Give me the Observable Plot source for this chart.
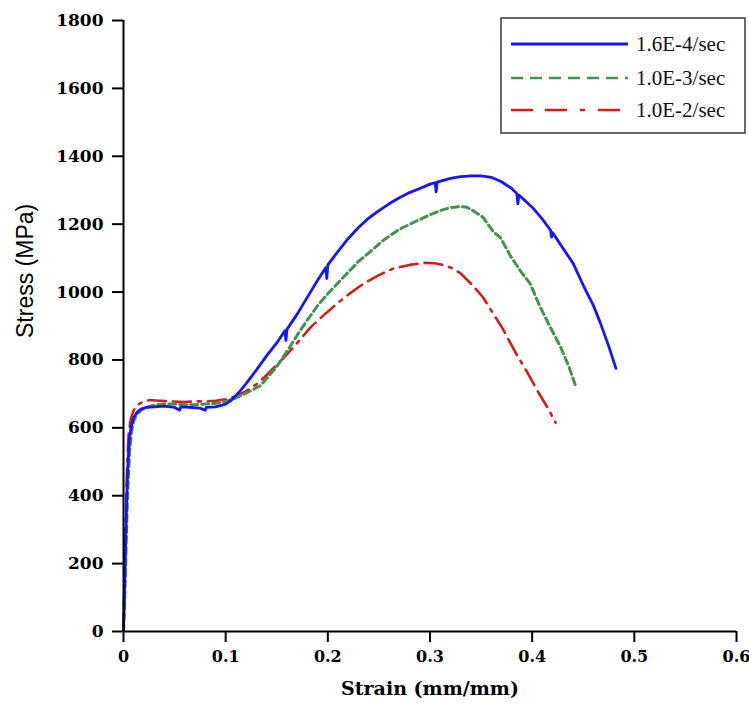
<!DOCTYPE html>
<html>
<head>
<meta charset="utf-8">
<script src="https://cdn.jsdelivr.net/npm/d3@7"></script>
<script src="https://cdn.jsdelivr.net/npm/@observablehq/plot@0.6"></script>
<style>
  html, body { margin: 0; padding: 0; background: white; }
  #wrap { position: relative; width: 749px; height: 711px; }
  #legend { position: absolute; left: 0; top: 0; }
</style>
</head>
<body>
<div id="wrap"></div>
<script>
const xTicks = [0, 0.1, 0.2, 0.3, 0.4, 0.5, 0.6];
const yTicks = [0, 200, 400, 600, 800, 1000, 1200, 1400, 1600, 1800];
const seriesNames = ["1.6E-4/sec", "1.0E-3/sec", "1.0E-2/sec"];
const seriesColors = ["#1414ff", "#43924f", "#d41c1c"];

// strain (mm/mm), stress (MPa)
const rate16e4 = [
  [0,0],[0.001,120],[0.002,250],[0.003,380],[0.004,470],[0.005,530],[0.006,575],[0.008,610],
  [0.010,630],[0.013,645],[0.017,655],[0.022,660],[0.030,662],[0.040,664],[0.050,660],
  [0.055,652],[0.056,662],[0.065,660],[0.075,658],[0.080,652],[0.081,660],[0.090,662],
  [0.100,670],[0.105,680],[0.110,695],[0.115,712],[0.120,730],[0.125,750],[0.130,770],
  [0.140,812],[0.150,850],[0.158,886],[0.159,858],[0.160,890],[0.170,935],[0.180,985],
  [0.190,1035],[0.198,1072],[0.199,1040],[0.200,1080],[0.210,1120],[0.220,1158],[0.230,1190],
  [0.240,1218],[0.250,1240],[0.260,1260],[0.270,1278],[0.280,1293],[0.290,1305],[0.300,1318],
  [0.305,1322],[0.306,1295],[0.307,1324],[0.320,1335],[0.330,1340],[0.340,1342],[0.350,1342],
  [0.360,1338],[0.370,1325],[0.380,1305],[0.385,1290],[0.386,1260],[0.387,1286],[0.390,1278],
  [0.400,1250],[0.410,1215],[0.418,1182],[0.419,1162],[0.420,1175],[0.430,1130],[0.440,1085],
  [0.450,1020],[0.460,960],[0.467,907],[0.475,840],[0.482,775]
];
const rate10e3 = [
  [0,0],[0.001,80],[0.002,180],[0.003,300],[0.004,400],[0.005,470],[0.006,530],[0.008,590],
  [0.010,620],[0.013,640],[0.017,652],[0.022,660],[0.030,667],[0.040,670],[0.050,670],
  [0.060,668],[0.070,668],[0.080,670],[0.090,672],[0.100,678],[0.110,688],[0.120,702],
  [0.130,718],[0.134,724],[0.140,745],[0.150,780],[0.160,825],[0.173,887],[0.180,918],
  [0.190,960],[0.200,995],[0.215,1043],[0.230,1090],[0.240,1115],[0.254,1152],[0.270,1185],
  [0.288,1211],[0.300,1228],[0.310,1240],[0.320,1249],[0.330,1252],[0.336,1250],[0.342,1240],
  [0.352,1220],[0.362,1178],[0.369,1160],[0.379,1105],[0.389,1060],[0.398,1025],[0.408,955],
  [0.418,895],[0.428,837],[0.436,780],[0.443,719]
];
const rate10e2 = [
  [0,0],[0.001,150],[0.002,300],[0.003,430],[0.004,520],[0.005,580],[0.007,625],[0.010,652],
  [0.014,668],[0.020,678],[0.026,682],[0.035,680],[0.045,678],[0.060,676],[0.070,678],
  [0.080,678],[0.090,680],[0.100,684],[0.110,693],[0.120,708],[0.131,730],[0.140,755],
  [0.157,807],[0.170,850],[0.183,896],[0.196,932],[0.209,966],[0.222,997],[0.235,1025],
  [0.250,1050],[0.264,1069],[0.280,1080],[0.294,1086],[0.305,1085],[0.313,1080],[0.322,1070],
  [0.330,1055],[0.342,1019],[0.352,984],[0.359,950],[0.371,893],[0.385,815],[0.395,765],
  [0.405,710],[0.415,660],[0.423,615]
];

const X = d => d[0], Y = d => d[1];

const chart = Plot.plot({
  width: 749,
  height: 711,
  marginLeft: 123,
  marginRight: 13,
  marginTop: 20,
  marginBottom: 80,
  style: {fontFamily: "DejaVu Serif", fontSize: "16px", fontWeight: "bold", background: "white", color: "black", overflow: "visible"},
  x: {domain: [0, 0.6]},
  y: {domain: [0, 1800]},
  marks: [
    Plot.axisX({ticks: xTicks, tickFormat: d => String(d), tickSize: 11, tickPadding: 8, strokeWidth: 2, label: null}),
    Plot.axisY({ticks: yTicks, tickFormat: d => String(d), tickSize: 11, tickPadding: 9, strokeWidth: 2, fontSize: 17, label: null}),
    Plot.line(rate10e2, {x: X, y: Y, stroke: seriesColors[2], strokeWidth: 2.6, strokeDasharray: "18,7,18,7,3,7"}),
    Plot.line(rate10e3, {x: X, y: Y, stroke: seriesColors[1], strokeWidth: 3, strokeDasharray: "7,4"}),
    Plot.line(rate16e4, {x: X, y: Y, stroke: seriesColors[0], strokeWidth: 2.8}),
    Plot.ruleX([0], {strokeWidth: 2}),
    Plot.ruleY([0], {strokeWidth: 2}),
    Plot.text(["Strain (mm/mm)"], {frameAnchor: "bottom", dy: 63, fontSize: 19, fontWeight: "bold", fontFamily: "DejaVu Serif"}),
    Plot.text(["Stress (MPa)"], {frameAnchor: "left", dx: -98, dy: 12, rotate: -90, fontSize: 23, fontWeight: "normal", fontFamily: "Liberation Sans"})
  ]
});
document.getElementById("wrap").appendChild(chart);

// legend overlay
const lg = d3.select("#wrap").append("svg").attr("id", "legend")
  .attr("width", 749).attr("height", 711).style("pointer-events", "none");
lg.append("rect").attr("x", 501).attr("y", 18).attr("width", 244).attr("height", 115)
  .attr("fill", "white").attr("stroke", "#444").attr("stroke-width", 1.6);
const legendDash = [null, "12,7", "22,12,22,13,5,13"];
const rows = [44, 78, 110];
seriesNames.forEach((name, i) => {
  lg.append("line").attr("x1", 511).attr("x2", 628).attr("y1", rows[i]).attr("y2", rows[i])
    .attr("stroke", seriesColors[i]).attr("stroke-width", i === 0 ? 3 : 2.6)
    .attr("stroke-dasharray", legendDash[i]);
  lg.append("text").attr("x", 636).attr("y", rows[i] + 7).text(name)
    .attr("font-family", "Liberation Serif").attr("font-size", 21).attr("fill", "#111");
});
</script>
</body>
</html>
